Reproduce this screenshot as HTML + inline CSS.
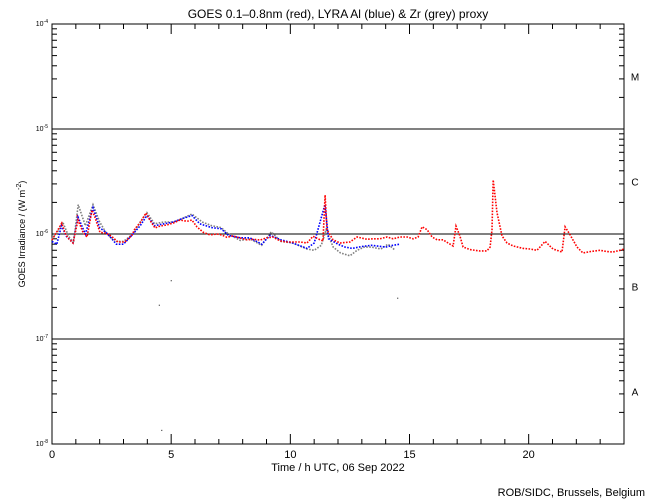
<!DOCTYPE html>
<html><head><meta charset="utf-8"><style>
html,body{margin:0;padding:0;background:#fff;}
svg{display:block;font-family:"Liberation Sans",sans-serif;}
</style></head><body>
<svg id="chart" width="650" height="500" viewBox="0 0 650 500" xmlns="http://www.w3.org/2000/svg">
<rect x="0" y="0" width="650" height="500" fill="#fff"/>
<text x="338" y="18" font-size="12" text-anchor="middle">GOES 0.1–0.8nm (red), LYRA Al (blue) &amp; Zr (grey) proxy</text>
<g id="axes"></g>
<g id="series"></g>
<text x="338" y="471" font-size="11" text-anchor="middle">Time / h UTC, 06 Sep 2022</text>
<text transform="translate(25,234) rotate(-90)" font-size="9" text-anchor="middle">GOES Irradiance / (W m<tspan dy="-4" font-size="7">-2</tspan><tspan dy="4">)</tspan></text>
<text x="645" y="496" font-size="11" text-anchor="end">ROB/SIDC, Brussels, Belgium</text>
</svg>
<script>
// data (values in units of 1e-6 W/m^2)
const redHours=[0,0.2,0.41,0.55,0.67,0.88,1.09,1.3,1.47,1.68,1.8,2.01,2.31,2.52,2.77,3.06,3.36,3.48,3.69,3.94,4.11,4.32,4.53,4.83,5.08,5.37,5.67,5.87,6.08,6.34,6.63,6.92,7.13,7.34,7.6,7.89,8.18,8.43,8.73,9.02,9.27,9.57,9.86,10.11,10.41,10.7,10.95,11.25,11.37,11.46,11.54,11.79,12.09,12.5,12.8,13.22,13.47,13.76,14.06,14.31,14.6,14.9,15.15,15.36,15.53,15.74,15.95,16.16,16.41,16.62,16.83,16.95,17.12,17.25,17.54,17.96,18.25,18.38,18.46,18.51,18.67,18.88,19.09,19.35,19.77,20.06,20.35,20.69,21.02,21.4,21.53,21.74,22.03,22.28,22.58,22.99,23.29,23.54,23.84,24];
const redValues=[0.877,1.05,1.27,1.02,0.916,0.821,1.36,1.04,0.936,1.69,1.45,1.04,1.01,0.94,0.839,0.839,0.978,1.12,1.27,1.58,1.35,1.14,1.19,1.22,1.27,1.36,1.32,1.36,1.17,1.04,0.98,1.0,0.978,0.93,0.96,0.916,0.88,0.89,0.877,0.92,0.936,0.86,0.84,0.839,0.84,0.821,0.95,0.88,0.86,2.35,1.1,0.88,0.821,0.84,0.936,0.89,0.9,0.9,0.936,0.9,0.936,0.936,0.9,0.936,1.17,1.1,0.936,0.88,0.88,0.82,0.769,1.19,0.95,0.752,0.71,0.689,0.69,0.752,1.1,3.27,1.6,0.96,0.82,0.769,0.73,0.72,0.70,0.85,0.72,0.674,1.17,0.98,0.752,0.659,0.68,0.70,0.68,0.674,0.70,0.72];
const blueHours=[0,0.2,0.4,0.6,0.88,1.09,1.4,1.72,2.0,2.3,2.7,3.0,3.4,3.7,3.98,4.3,4.7,5.1,5.45,5.87,6.2,6.7,7.1,7.4,7.9,8.3,8.8,9.15,9.6,10.1,10.7,11.0,11.45,11.6,12.0,12.3,12.6,13.0,13.4,14.0,14.3,14.6];
const blueValues=[0.85,0.8,1.2,0.95,0.82,1.45,1.0,1.78,1.15,1.02,0.8,0.8,1.0,1.2,1.5,1.2,1.25,1.3,1.4,1.5,1.25,1.15,1.12,0.97,0.92,0.92,0.8,0.97,0.88,0.82,0.73,0.82,1.9,0.9,0.8,0.75,0.73,0.76,0.78,0.75,0.78,0.8];
const greyHours=[0,0.3,0.45,0.7,0.9,1.1,1.4,1.72,2.0,2.3,2.7,3.0,3.4,3.7,3.98,4.3,4.7,5.1,5.45,5.87,6.3,6.7,7.1,7.4,7.9,8.3,8.8,9.2,9.6,10.1,10.7,11.0,11.3,11.5,11.8,12.1,12.5,12.8,13.1,13.4,13.8,14.1,14.4];
const greyValues=[0.9,1.1,1.3,0.95,0.82,1.9,1.2,1.9,1.3,1.0,0.85,0.85,1.0,1.3,1.6,1.25,1.3,1.3,1.4,1.55,1.3,1.2,1.15,1.0,0.87,0.9,0.78,1.05,0.85,0.82,0.72,0.7,0.78,1.1,0.75,0.66,0.62,0.7,0.75,0.75,0.72,0.8,0.7];
const strayHours=[1.05,5.0,4.5,14.5,4.6];
const strayValues=[1.5,0.36,0.21,0.245,0.0135];
const xTicks=[0,5,10,15,20];
const yDecades=[-8,-7,-6,-5,-4];
const classLabels=["A","B","C","M"];

const NS="http://www.w3.org/2000/svg";
const X0=52,X1=624,Y0=444,Y1=24;
const xs=h=>X0+(h/24)*(X1-X0);
const ys=v=>{const l=Math.log10(v*1e-6);return Y0-(l+8)/4*(Y0-Y1);};
const ysl=l=>Y0-(l+8)/4*(Y0-Y1);
function mk(tag,attrs,parent){const e=document.createElementNS(NS,tag);for(const k in attrs)e.setAttribute(k,attrs[k]);parent.appendChild(e);return e;}
const axes=document.getElementById('axes'),ser=document.getElementById('series');

const frame=mk('rect',{x:X0,y:Y1,width:X1-X0,height:Y0-Y1,fill:'none',stroke:'#000','stroke-width':1},axes);


// class threshold lines
[-7,-6,-5].forEach(d=>{const l=mk('line',{x1:X0,x2:X1,y1:ysl(d),y2:ysl(d),stroke:'#000','stroke-width':1},axes);

});
// y ticks
for(let d=-8;d<-4;d++){for(let m=1;m<10;m++){const y=ysl(d+Math.log10(m));const len=m===1?10:5;
mk('line',{x1:X0,x2:X0+len,y1:y,y2:y,stroke:'#000'},axes);mk('line',{x1:X1,x2:X1-len,y1:y,y2:y,stroke:'#000'},axes);}}
yDecades.forEach(d=>{const t=mk('text',{x:X0-4,y:ysl(d)+2,'font-size':7,'text-anchor':'end'},axes);


t.innerHTML='10<tspan dy="-3" font-size="5">'+d+'</tspan>';});
classLabels.forEach((c,i)=>{const t=mk('text',{x:635,y:ysl(-8+i+0.5)+4,'font-size':10,'text-anchor':'middle'},axes);t.textContent=c;

});
// x ticks
for(let h=0;h<=24;h++){const x=xs(h);const len=h%5===0?10:5;
mk('line',{x1:x,x2:x,y1:Y0,y2:Y0-len,stroke:'#000'},axes);mk('line',{x1:x,x2:x,y1:Y1,y2:Y1+len,stroke:'#000'},axes);}
xTicks.forEach(h=>{const t=mk('text',{x:xs(h),y:458,'font-size':11,'text-anchor':'middle'},axes);t.textContent=h;

});

function series(hours,vals,color,name){const pts=hours.map((h,i)=>xs(h).toFixed(1)+','+ys(vals[i]).toFixed(1)).join(' ');
const p=mk('polyline',{points:pts,fill:'none',stroke:color,'stroke-width':1.6,'stroke-dasharray':'1.6 1.4'},ser);

}
series(greyHours,greyValues,'#808080','zr-proxy-series');
series(blueHours,blueValues,'#0000ff','al-proxy-series');
series(redHours,redValues,'#ff0000','goes-xray-series');
strayHours.forEach((h,i)=>{const r=mk('rect',{x:xs(h)-0.5,y:ys(strayValues[i])-0.5,width:1.2,height:1.2,fill:i===0?'#ff0000':'#555'},ser);

});
</script>
</body></html>
